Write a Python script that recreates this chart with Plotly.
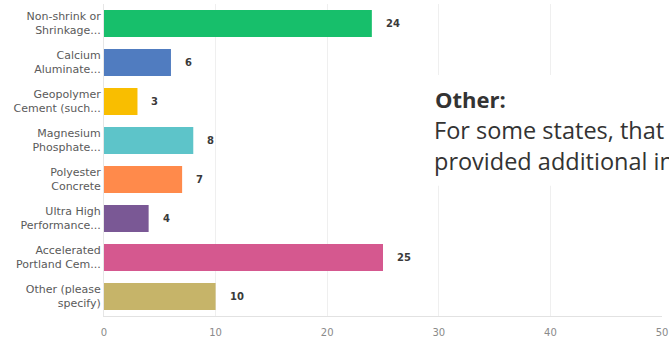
import plotly.graph_objects as go

# Survey answer choices (two-line labels as displayed) and response counts
categories = [
    "Non-shrink or<br>Shrinkage...",
    "Calcium<br>Aluminate...",
    "Geopolymer<br>Cement (such...",
    "Magnesium<br>Phosphate...",
    "Polyester<br>Concrete",
    "Ultra High<br>Performance...",
    "Accelerated<br>Portland Cem...",
    "Other (please<br>specify)",
]
counts = [24, 6, 3, 8, 7, 4, 25, 10]
bar_colors = ["#17BF6B", "#507CC0", "#F9BE00", "#5DC4C9",
              "#FF8A4B", "#7A5895", "#D5588F", "#C6B469"]
x_ticks = [0, 10, 20, 30, 40, 50]

note_title = "Other:"
note_lines = ["For some states, that", "provided additional information"]

W, H = 669, 339
M_L, M_R, M_T, M_B = 104, 1, 4, 19
PW, PH = W - M_L - M_R, H - M_T - M_B


def px_x(p):
    return (p - M_L) / PW


def px_y(p):
    return (H - M_B - p) / PH


fig = go.Figure()
fig.add_trace(go.Bar(
    x=counts,
    y=categories,
    orientation="h",
    marker=dict(color=bar_colors, line=dict(width=0)),
    hoverinfo="x+y",
))

# Count labels to the right of each bar
for cat, val in zip(categories, counts):
    fig.add_annotation(
        x=val, y=cat, xref="x", yref="y",
        text=f"<b>{val}</b>", showarrow=False,
        xanchor="left", xshift=12,
        font=dict(family="DejaVu Sans", size=10, color="#3a3a3a"),
    )

# White text panel with the note
fig.add_shape(
    type="rect", xref="paper", yref="paper",
    x0=px_x(405), x1=1.05, y0=px_y(188), y1=px_y(76),
    fillcolor="white", line=dict(width=0), layer="above",
)
fig.add_annotation(
    x=px_x(437), y=px_y(100), xref="paper", yref="paper",
    text=f"<b>{note_title}</b>", showarrow=False,
    xanchor="left", yanchor="middle",
    font=dict(family="Open Sans", size=22, color="#333333"),
)
for i, line in enumerate(note_lines):
    fig.add_annotation(
        x=px_x(436), y=px_y(132 + 31 * i), xref="paper", yref="paper",
        text=line, showarrow=False,
        xanchor="left", yanchor="middle",
        font=dict(family="Open Sans", size=23.5, color="#333333"),
    )

fig.update_layout(
    width=W, height=H,
    margin=dict(l=M_L, r=M_R, t=M_T, b=M_B, pad=0),
    paper_bgcolor="white", plot_bgcolor="white",
    bargap=0.31,
    showlegend=False,
    xaxis=dict(
        range=[0, 50], tickvals=x_ticks,
        showgrid=True, gridcolor="#EFEFEF", gridwidth=1,
        zeroline=False, showline=True, linecolor="#E2E2E2", linewidth=1,
        ticks="", tickfont=dict(family="DejaVu Sans", size=10, color="#8a8a8a"),
        ticklabelstandoff=7, ticklabeloverflow="allow",
    ),
    yaxis=dict(
        categoryorder="array", categoryarray=categories[::-1],
        showgrid=False, zeroline=False,
        showline=True, linecolor="#E6E6E6", linewidth=1,
        ticks="", tickfont=dict(family="DejaVu Sans", size=11, color="#5a5a5a"),
    ),
)

fig.write_html("out.html")
